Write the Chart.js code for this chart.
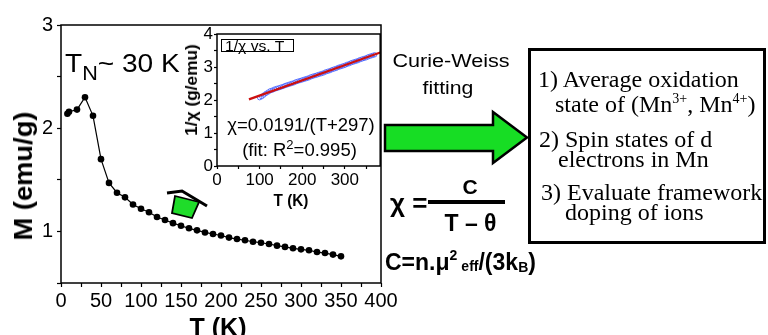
<!DOCTYPE html>
<html>
<head>
<meta charset="utf-8">
<script src="https://cdn.jsdelivr.net/npm/chart.js@4.4.1/dist/chart.umd.min.js"></script>
<style>
  html, body { margin: 0; padding: 0; background: #fff; }
  #wrap { position: relative; width: 768px; height: 335px; overflow: hidden; font-family: "Liberation Sans", Arial, sans-serif; color: #000; }
  canvas { position: absolute; }
  .t { position: absolute; white-space: nowrap; line-height: 1; transform-origin: 0 0; }
  .c { transform-origin: 50% 50%; }
  .b { font-weight: bold; }
  .serif { font-family: "Liberation Serif", "Times New Roman", serif; font-size: 24px; }
  .up { position: relative; }
</style>
</head>
<body>
<div id="wrap">
  <canvas id="main" width="768" height="335" style="left:0;top:0"></canvas>
  <canvas id="inset" width="225" height="175" style="left:160px;top:20px"></canvas>

  <!-- main plot labels -->
  <div class="t" style="left:65px;top:50px;font-size:26px;transform:scaleX(1.08)">T<span class="up" style="font-size:20px;top:8px">N</span>~ 30 K</div>
  <div class="t b c" style="left:23px;top:176px;font-size:26px;transform:translate(-50%,-50%) rotate(-90deg) scaleX(1.05)">M (emu/g)</div>
  <div class="t b c" style="left:218px;top:315px;font-size:25px;transform:translateX(-50%)">T (K)</div>

  <!-- inset labels -->
  <div class="t" style="left:221px;top:38.5px;width:73px;height:13.5px;border:1px solid #000;box-sizing:border-box"></div>
  <div class="t" style="left:225px;top:39px;font-size:14px;transform:scaleX(1.12)">1/χ vs. T</div>
  <div class="t b c" style="left:192px;top:90px;font-size:16px;transform:translate(-50%,-50%) rotate(-90deg) scaleX(1.08)">1/χ (g/emu)</div>
  <div class="t b c" style="left:291px;top:192px;font-size:17px;transform:translateX(-50%) scaleX(0.9)">T (K)</div>
  <div class="t c" style="left:301px;top:116px;font-size:18.5px;transform:translateX(-50%)">χ=0.0191/(T+297)</div>
  <div class="t c" style="left:299.5px;top:141px;font-size:18.5px;transform:translateX(-50%)">(fit: R<span class="up" style="font-size:13px;top:-7px">2</span>=0.995)</div>

  <!-- middle: fitting + formula -->
  <div class="t c" style="left:451px;top:51.5px;font-size:18px;transform:translateX(-50%) scaleX(1.2)">Curie-Weiss</div>
  <div class="t c" style="left:448px;top:79px;font-size:18px;transform:translateX(-50%) scaleX(1.18)">fitting</div>
  <div class="t b" style="left:390px;top:189.5px;font-size:26px">χ =</div>
  <div class="t b c" style="left:470px;top:175.5px;font-size:21px;transform:translateX(-50%)">C</div>
  <div class="t" style="left:428px;top:199.5px;width:77px;height:4px;background:#000"></div>
  <div class="t b c" style="left:470.5px;top:212px;font-size:23px;transform:translateX(-50%)">T – θ</div>
  <div class="t b" style="left:385px;top:250.5px;font-size:23px">C=n.μ<span class="up" style="font-size:14px;top:-10px">2</span><span class="up" style="font-size:14px;margin-left:4px;top:1px">eff</span>/(3k<span class="up" style="font-size:14px;top:2px">B</span>)</div>

  <!-- box text -->
  <div class="t serif" style="left:538px;top:66.6px">1) Average oxidation</div>
  <div class="t serif" style="left:555px;top:91.6px">state of (Mn<span class="up" style="font-size:14px;top:-9px">3+</span>, Mn<span class="up" style="font-size:14px;top:-9px">4+</span>)</div>
  <div class="t serif" style="left:539px;top:126.6px">2) Spin states of d</div>
  <div class="t serif" style="left:558px;top:147.2px">electrons in Mn</div>
  <div class="t serif" style="left:541px;top:180px">3) Evaluate framework</div>
  <div class="t serif" style="left:565px;top:200px">doping of ions</div>
</div>

<script>
// main curve: magnetisation vs temperature
const mainT = [8, 10, 20, 30, 40, 50, 60, 70, 80, 90, 100, 110, 120, 130, 140, 150, 160, 170, 180,
  190, 200, 210, 220, 230, 240, 250, 260, 270, 280, 290, 300, 310, 320, 330, 340, 350]
const mainM = [2.14, 2.16, 2.18, 2.30, 2.12, 1.70, 1.47, 1.375, 1.33, 1.26, 1.22, 1.185, 1.14, 1.11, 1.08,
  1.055, 1.03, 1.01, 0.99, 0.975, 0.96, 0.94, 0.926, 0.914, 0.90, 0.89, 0.878, 0.862, 0.85, 0.836,
  0.826, 0.817, 0.80, 0.79, 0.775, 0.758]

// inset: 1/chi data and fit line
const insetT = [100, 105, 110, 115, 120, 125, 130, 135, 140, 145, 150, 155, 160, 165, 170, 175, 180,
  185, 190, 195, 200, 205, 210, 215, 220, 225, 230, 235, 240, 245, 250, 255, 260, 265, 270, 275, 280,
  285, 290, 295, 300, 305, 310, 315, 320, 325, 330, 335, 340, 345, 350, 355, 360, 365, 370]
const insetInvChi = [2.07, 2.10, 2.15, 2.20, 2.24, 2.28, 2.30, 2.33, 2.35, 2.37, 2.39, 2.41, 2.44, 2.46,
  2.48, 2.50, 2.52, 2.55, 2.57, 2.59, 2.61, 2.63, 2.65, 2.67, 2.70, 2.72, 2.74, 2.76, 2.78, 2.80, 2.82,
  2.85, 2.87, 2.89, 2.92, 2.94, 2.96, 2.99, 3.01, 3.03, 3.05, 3.08, 3.10, 3.13, 3.15, 3.17, 3.19, 3.22,
  3.24, 3.26, 3.28, 3.31, 3.33, 3.35, 3.37]
const fitT = [75, 383]
const fitInvChi = [2.02, 3.44]

// ticks
const mainXTicks = [0, 25, 50, 75, 100, 125, 150, 175, 200, 225, 250, 275, 300, 325, 350, 375, 400]
const mainXLabeled = [0, 50, 100, 150, 200, 250, 300, 350, 400]
const mainYTicks = [0.5, 1, 1.5, 2, 2.5, 3]
const mainYLabeled = [1, 2, 3]
const insetXTicks = [0, 50, 100, 150, 200, 250, 300, 350]
const insetXLabeled = [0, 100, 200, 300]
const insetYTicks = [0, 0.5, 1, 1.5, 2, 2.5, 3, 3.5, 4]
const insetYLabeled = [0, 1, 2, 3, 4]

Chart.defaults.font.family = `"Liberation Sans", Arial, sans-serif`
Chart.defaults.color = `#000`

const zip = (xs, ys) => xs.map((x, i) => ({x, y: ys[i]}))

//  axis helper, ticks outside, no grid lines in the plot
function axis(min, max, tickList, labeled, fontSize, tickLength, padding, fit) {
  return {
    type: `linear`, min, max,
    afterBuildTicks: s => { s.ticks = tickList.map(v => ({value: v})) },
    afterFit: fit,
    grid: {drawOnChartArea: false, drawTicks: true, tickLength, tickColor: `#000`, tickWidth: 1.2},
    border: {display: false},
    ticks: {
      font: {size: fontSize}, padding, maxRotation: 0, autoSkip: false, color: `#000`,
      callback: v => labeled.includes(v) ? String(v) : ``
    }
  }
}

const frame = {
  id: `frame`,
  afterDraw(chart) {
    const {ctx, chartArea: a} = chart
    ctx.save()
    ctx.strokeStyle = `#000`
    ctx.lineWidth = 1.5
    ctx.strokeRect(a.left, a.top, a.right - a.left, a.bottom - a.top)
    ctx.restore()
  }
}

//  arrows and the result box
const decor = {
  id: `decor`,
  afterDraw(chart) {
    const ctx = chart.ctx
    ctx.save()
    ctx.lineJoin = `miter`
    // small tilted arrow next to the curve
    ctx.fillStyle = `#1fdc2a`
    ctx.strokeStyle = `#000`
    ctx.lineWidth = 1.8
    ctx.beginPath()
    ctx.moveTo(175, 196); ctx.lineTo(199, 202); ctx.lineTo(192, 218); ctx.lineTo(172, 213); ctx.closePath()
    ctx.fill(); ctx.stroke()
    ctx.lineWidth = 3
    ctx.beginPath()
    ctx.moveTo(167, 193); ctx.lineTo(182, 191); ctx.lineTo(207, 206)
    ctx.stroke()

    // big arrow
    ctx.lineWidth = 2.5
    ctx.fillStyle = `#17dd24`
    ctx.beginPath()
    ctx.moveTo(385, 125); ctx.lineTo(493, 125); ctx.lineTo(493, 112); ctx.lineTo(527, 137.5)
    ctx.lineTo(493, 163); ctx.lineTo(493, 151); ctx.lineTo(385, 151); ctx.closePath()
    ctx.fill(); ctx.stroke()

    // result box
    ctx.lineWidth = 3
    ctx.strokeRect(529.5, 49.5, 235, 193)
    ctx.restore()
  }
}

new Chart(document.getElementById(`main`), {
  type: `scatter`,
  data: {
    datasets: [{
      data: zip(mainT, mainM),
      showLine: true,
      borderColor: `#000`,
      borderWidth: 1.2,
      pointRadius: 3.3,
      pointBackgroundColor: `#000`,
      pointBorderWidth: 0
    }]
  },
  options: {
    responsive: false,
    animation: false,
    devicePixelRatio: 1,
    layout: {padding: {left: 0, top: 25, right: 387, bottom: 0}},
    plugins: {legend: {display: false}, tooltip: {enabled: false}},
    scales: {
      x: axis(0, 400, mainXTicks, mainXLabeled, 20, 4, 2, s => { s.height = 52 }),
      y: axis(0.5, 3, mainYTicks, mainYLabeled, 20, 4, 4, s => { s.width = 61 })
    }
  },
  plugins: [frame, decor]
})

new Chart(document.getElementById(`inset`), {
  type: `scatter`,
  data: {
    datasets: [{
      data: zip(fitT, fitInvChi),
      showLine: true,
      borderColor: `#cc1010`,
      borderWidth: 2.2,
      pointRadius: 0
    }, {
      data: zip(insetT, insetInvChi),
      showLine: false,
      pointRadius: 2.2,
      pointBackgroundColor: `rgba(0,0,0,0)`,
      pointBorderColor: `#3d5bff`,
      pointBorderWidth: 0.8
    }]
  },
  options: {
    responsive: false,
    animation: false,
    devicePixelRatio: 1,
    layout: {padding: {left: 0, top: 14, right: 4, bottom: 0}},
    plugins: {legend: {display: false}, tooltip: {enabled: false}},
    scales: {
      x: axis(0, 383, insetXTicks, insetXLabeled, 17, 3, 1, s => { s.height = 29 }),
      y: axis(0, 4, insetYTicks, insetYLabeled, 17, 3, 1, s => { s.width = 57 })
    }
  },
  plugins: [frame]
})
</script>
</body>
</html>
